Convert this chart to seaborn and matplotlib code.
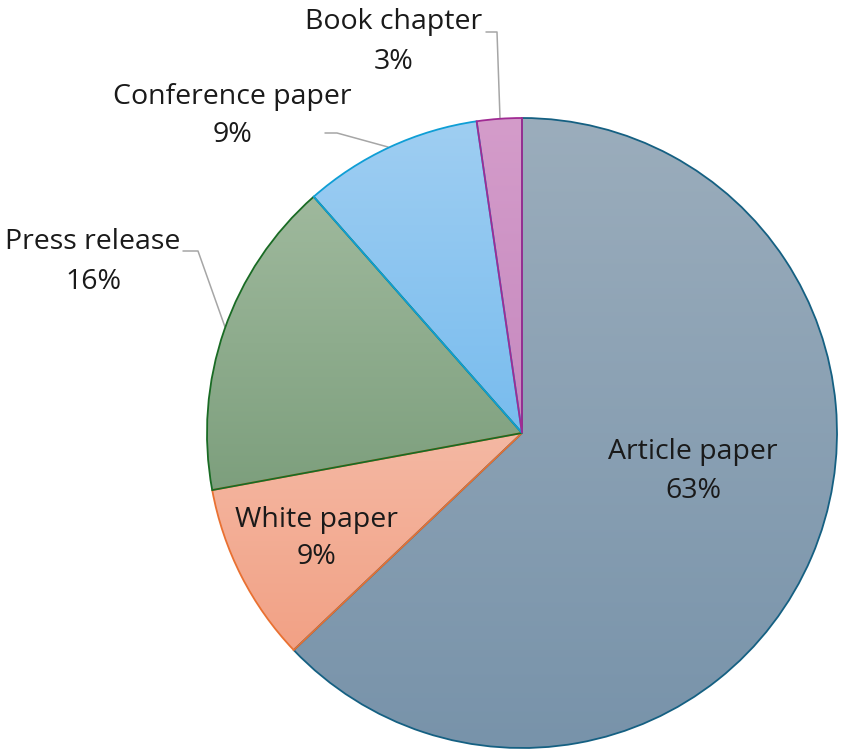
import numpy as np
import matplotlib
matplotlib.use("Agg")
import matplotlib.pyplot as plt
from matplotlib.colors import LinearSegmentedColormap
import seaborn as sns

# ---------------- data ----------------
categories = ["Article paper", "White paper", "Press release", "Conference paper", "Book chapter"]
values = [62.9, 9.2, 16.4, 9.2, 2.3]
pct_labels = ["63%", "9%", "16%", "9%", "3%"]

# ---------------- style ----------------
sns.set_theme(style="white")
plt.rcParams["font.family"] = ["Open Sans", "DejaVu Sans"]

top_colors = ["#9BADBC", "#F4B8A3", "#9FB99D", "#9FCEF2", "#D49CCA"]
bottom_colors = ["#7893AA", "#F2A185", "#7D9F7D", "#78BCEE", "#C689BF"]
edge_colors = ["#156082", "#E97132", "#196B24", "#0F9ED5", "#A02B93"]

W, H = 851, 756
fig = plt.figure(figsize=(W / 100, H / 100), dpi=100)
ax = fig.add_axes([0, 0, 1, 1])

cx, cy, R = 522, H - 433, 315
wedges, _ = ax.pie(values, startangle=90, counterclock=False,
                   center=(cx, cy), radius=R,
                   wedgeprops=dict(linewidth=1.3))

grad = np.linspace(0, 1, 256).reshape(-1, 1)
for i, w in enumerate(wedges):
    w.set_facecolor("none")
    w.set_edgecolor(edge_colors[i])
    w.set_zorder(3 + i * 0.01)
    ext = w.get_path().get_extents()
    cmap = LinearSegmentedColormap.from_list(f"g{i}", [top_colors[i], bottom_colors[i]])
    im = ax.imshow(grad, cmap=cmap, aspect="auto", origin="upper",
                   extent=[ext.x0, ext.x1, ext.y0, ext.y1], zorder=2,
                   interpolation="bilinear")
    im.set_clip_path(w)

# ---------------- labels ----------------
label_pos = [(693, 452, 491), (316, 520, 557), (93, 242, 282), (232, 97, 135), (394, 22, 62)]
fs = 20.5
tc = "#1A1A1A"
for (x, y1, y2), name, pct in zip(label_pos, categories, pct_labels):
    ax.text(x, H - y1, name, ha="center", va="center", fontsize=fs, color=tc, zorder=5)
    ax.text(x, H - y2, pct, ha="center", va="center", fontsize=fs, color=tc, zorder=5)

# leader lines
lc = "#A6A6A6"
leaders = [
    [(486, 32), (497, 32), (500, 118)],
    [(325, 133), (337, 133), (388, 147)],
    [(183, 251), (198, 251), (225, 327)],
]
for pts in leaders:
    xs = [p[0] for p in pts]
    ys = [H - p[1] for p in pts]
    ax.plot(xs, ys, color=lc, lw=1.1, zorder=1.5)

ax.set_xlim(0, W)
ax.set_ylim(0, H)
ax.set_aspect("equal")
ax.axis("off")

fig.savefig("out.png", dpi=100, facecolor="white")
